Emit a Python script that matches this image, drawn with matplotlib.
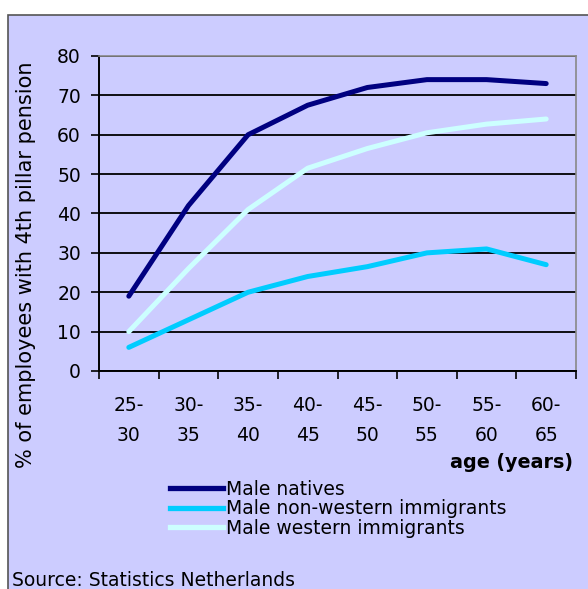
import numpy as np
import matplotlib.pyplot as plt
from matplotlib.patches import Rectangle
from matplotlib.lines import Line2D

plt.rcParams['font.family'] = ['DejaVu Sans']

# age groups and share of employees with a 4th pillar pension (%)
age_groups = ['25-\n30', '30-\n35', '35-\n40', '40-\n45', '45-\n50', '50-\n55', '55-\n60', '60-\n65']
natives = [19, 42, 60, 67.5, 72, 74, 74, 73]
non_western = [6, 13, 20, 24, 26.5, 30, 31, 27]
western = [10, 26, 41, 51.5, 56.5, 60.5, 62.7, 64]

series = [('Male natives', natives, '#000080'),
          ('Male non-western immigrants', non_western, '#00CCFF'),
          ('Male western immigrants', western, '#CCFFFF')]

bg = '#CCCCFF'
fs = 13.5
fig = plt.figure(figsize=(5.88, 5.89), dpi=100)
fig.patch.set_facecolor('white')
fig.add_artist(Rectangle((8 / 588, -0.05), 1.0, 1 - 15 / 589 + 0.05,
                         transform=fig.transFigure, facecolor=bg,
                         edgecolor='#555555', linewidth=1.2, zorder=-10))

ax = fig.add_axes([99 / 588, 1 - 371 / 589, 477 / 588, 315 / 589])
ax.set_facecolor(bg)

x = np.arange(len(age_groups))
for name, vals, col in series:
    ax.plot(x, vals, color=col, linewidth=3.6, solid_capstyle='round', zorder=3)

ax.set_xlim(-0.5, len(age_groups) - 0.5)
ax.set_ylim(0, 80)
ax.set_yticks(range(0, 81, 10))
ax.tick_params(axis='y', labelsize=fs, length=6, width=1.2, direction='out', pad=7)
ax.yaxis.grid(True, color='black', linewidth=1.3)
ax.set_axisbelow(True)

# category labels at centres, tick marks between categories
ax.set_xticks(x)
ax.set_xticklabels(age_groups, fontsize=fs, linespacing=1.75)
ax.tick_params(axis='x', length=0, pad=18)
ax.set_xticks(np.arange(-0.5, len(age_groups)), minor=True)
ax.tick_params(axis='x', which='minor', length=6, width=1.2, direction='out')

for s in ['left', 'bottom']:
    ax.spines[s].set_color('black')
    ax.spines[s].set_linewidth(1.4)
for s in ['top', 'right']:
    ax.spines[s].set_color('#888888')
    ax.spines[s].set_linewidth(1.2)

fig.text(26 / 588, 1 - 265 / 589, '% of employees with 4th pillar pension',
         rotation=90, ha='center', va='center', fontsize=15)
fig.text(573 / 588, 1 - 463 / 589, 'age (years)', ha='right', va='center',
         fontsize=13.8, fontweight='bold')

handles = [Line2D([], [], color=c, linewidth=3.8) for _, _, c in series]
fig.legend(handles, [n for n, _, _ in series], loc='upper left',
           bbox_to_anchor=(170 / 588, 1 - 480 / 589), frameon=False,
           fontsize=fs, handlelength=2.8, handletextpad=0.2,
           labelspacing=0.02, borderpad=0, borderaxespad=0)

fig.text(12 / 588, 1 - 580 / 589, 'Source: Statistics Netherlands',
         ha='left', va='center', fontsize=fs)

fig.savefig('out.png', dpi=100, facecolor=fig.get_facecolor())
